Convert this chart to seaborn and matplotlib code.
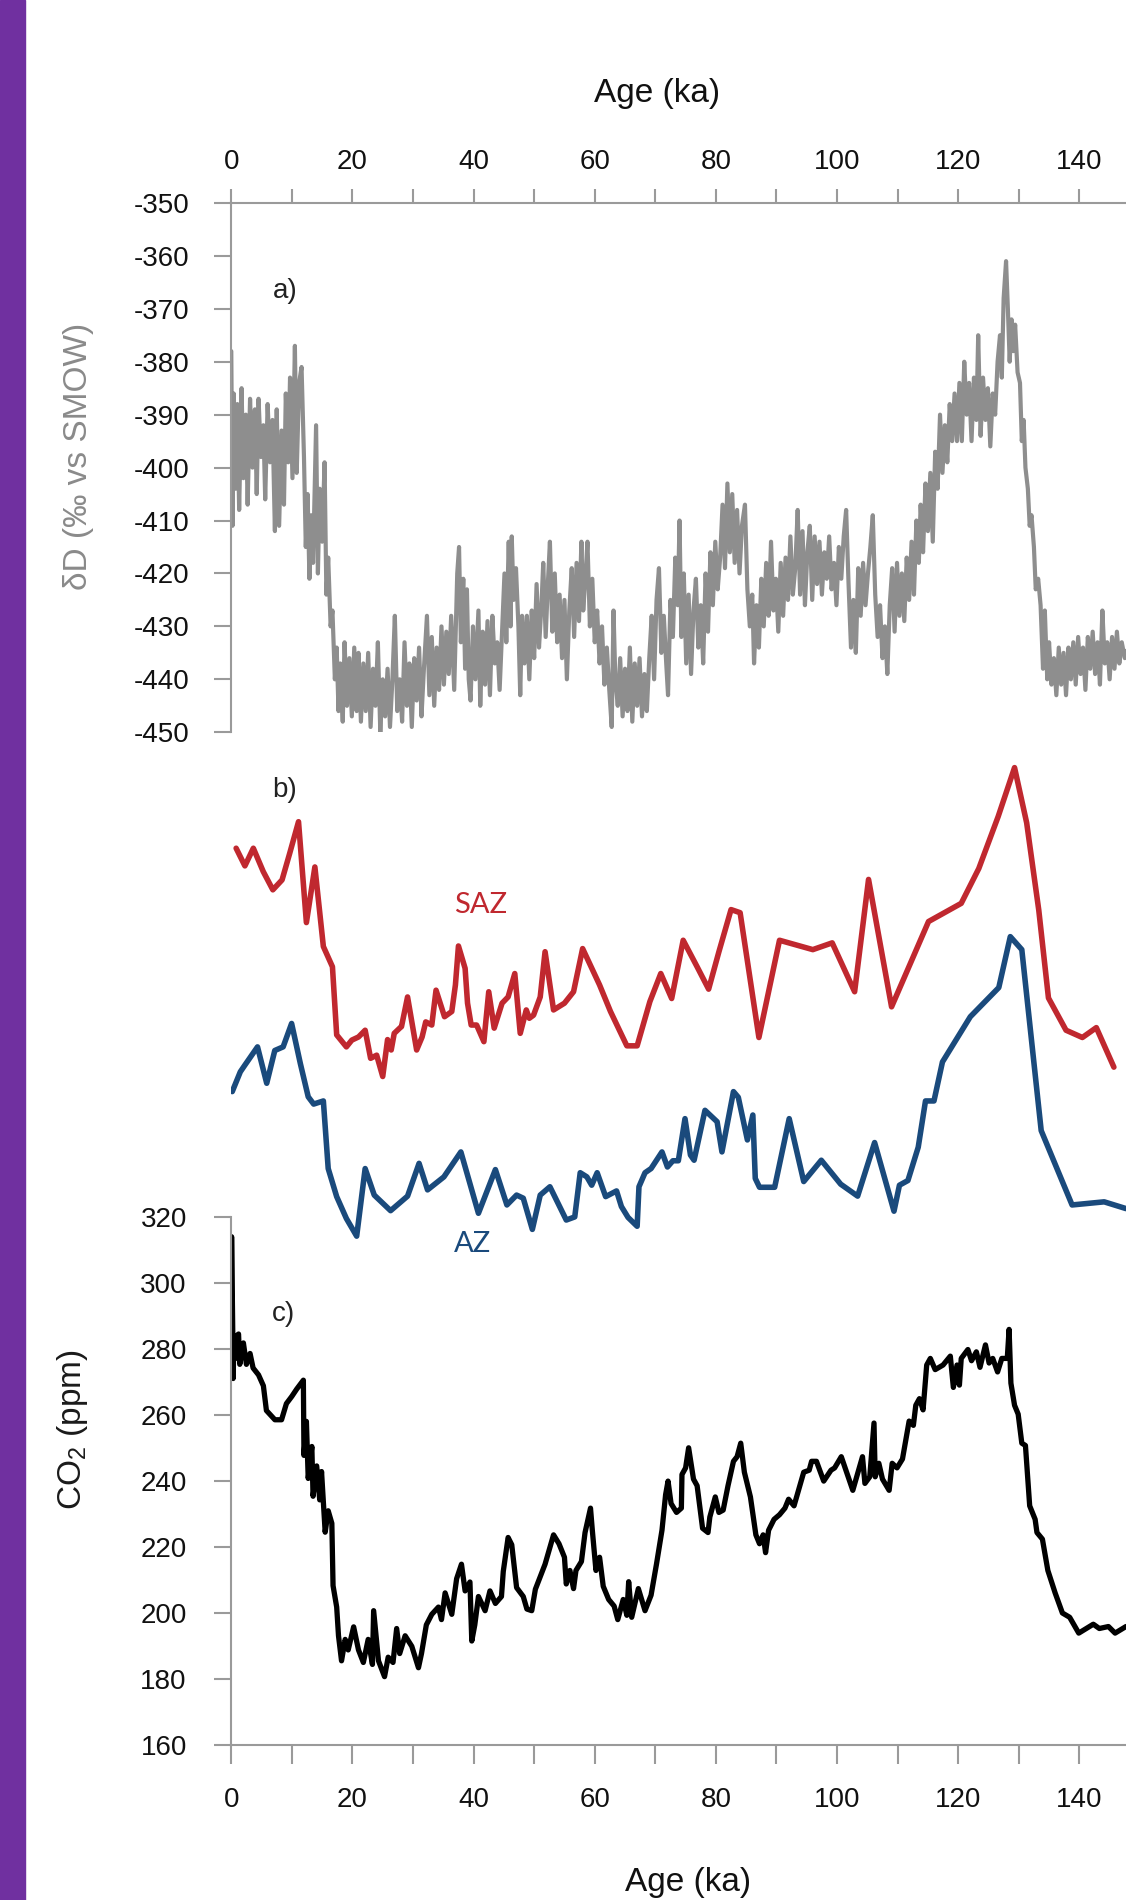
import matplotlib
matplotlib.use("Agg")
import matplotlib.pyplot as plt
import seaborn as sns
import pandas as pd
from matplotlib.patches import Rectangle

# --- a) deuterium (EPICA Dome C) ---
dD_age = [
    0.0, 0.2, 0.4, 0.7, 1.0, 1.3, 1.7, 2.0, 2.4, 2.7, 3.1, 3.5, 3.9, 4.2, 4.5, 4.9,
    5.3, 5.6, 6.0, 6.4, 6.8, 7.2, 7.5, 7.9, 8.3, 8.7, 9.0, 9.4, 9.7, 10.1, 10.5, 10.8,
    11.2, 11.6, 12.0, 12.3, 12.6, 12.9, 13.2, 13.5, 14.0, 14.3, 14.6, 15.0, 15.4, 15.7,
    16.0, 16.4, 16.7, 17.1, 17.4, 17.7, 18.0, 18.4, 18.7, 19.1, 19.5, 19.9, 20.3, 20.7,
    21.0, 21.4, 21.8, 22.2, 22.6, 23.0, 23.4, 23.8, 24.2, 24.6, 25.0, 25.4, 25.8, 26.2,
    26.6, 27.0, 27.4, 27.8, 28.2, 28.6, 29.0, 29.4, 29.8, 30.2, 30.6, 31.0, 31.4, 31.8,
    32.3, 32.7, 33.1, 33.5, 33.9, 34.3, 34.7, 35.1, 35.5, 35.9, 36.3, 36.8, 37.3, 37.6,
    37.9, 38.3, 38.6, 38.9, 39.2, 39.5, 39.9, 40.3, 40.8, 41.1, 41.5, 41.9, 42.3, 42.7,
    43.1, 43.5, 43.9, 44.3, 44.7, 45.1, 45.4, 45.8, 46.1, 46.3, 46.6, 47.0, 47.4, 47.7,
    48.0, 48.4, 48.8, 49.2, 49.6, 50.0, 50.4, 50.8, 51.2, 51.5, 51.9, 52.3, 52.6, 53.0,
    53.4, 53.8, 54.2, 54.6, 55.0, 55.4, 55.8, 56.2, 56.6, 57.0, 57.4, 57.8, 58.1, 58.5,
    58.8, 59.2, 59.6, 60.0, 60.4, 60.8, 61.2, 61.6, 62.0, 62.4, 62.8, 63.1, 63.4, 63.8,
    64.2, 64.6, 65.0, 65.4, 65.8, 66.2, 66.6, 67.0, 67.4, 67.8, 68.2, 68.6, 69.0, 69.4,
    69.8, 70.2, 70.6, 71.0, 71.4, 71.8, 72.1, 72.5, 72.9, 73.3, 73.7, 74.0, 74.3, 74.7,
    75.1, 75.5, 75.9, 76.3, 76.7, 77.1, 77.5, 77.9, 78.3, 78.7, 79.1, 79.5, 79.9, 80.3,
    80.7, 81.1, 81.5, 81.9, 82.3, 82.7, 83.1, 83.5, 83.9, 84.3, 84.8, 85.2, 85.6, 86.0,
    86.3, 86.7, 87.1, 87.5, 87.9, 88.3, 88.7, 89.1, 89.5, 89.9, 90.3, 90.7, 91.1, 91.5,
    91.9, 92.3, 92.7, 93.1, 93.5, 93.9, 94.3, 94.7, 95.1, 95.5, 95.9, 96.3, 96.7, 97.1,
    97.5, 97.9, 98.3, 98.7, 99.1, 99.5, 99.9, 100.3, 100.7, 101.1, 101.5, 101.9, 102.3,
    102.7, 103.1, 103.5, 103.9, 104.3, 104.7, 105.1, 105.5, 105.9, 106.3, 106.7, 107.1,
    107.5, 107.9, 108.3, 108.7, 109.1, 109.5, 109.9, 110.3, 110.7, 111.1, 111.5, 111.9,
    112.3, 112.7, 113.1, 113.5, 113.8, 114.2, 114.6, 115.0, 115.4, 115.8, 116.2, 116.6,
    117.0, 117.4, 117.8, 118.2, 118.6, 119.0, 119.4, 119.8, 120.2, 120.6, 121.0, 121.4,
    121.8, 122.2, 122.6, 123.0, 123.3, 123.7, 124.1, 124.5, 124.9, 125.3, 125.7, 126.1,
    126.5, 126.9, 127.2, 127.5, 127.9, 128.2, 128.5, 128.8, 129.1, 129.4, 129.8, 130.2,
    130.5, 130.8, 131.1, 131.5, 131.8, 132.1, 132.5, 132.8, 133.2, 133.6, 134.0, 134.3,
    134.7, 135.0, 135.4, 135.8, 136.2, 136.6, 137.0, 137.4, 137.8, 138.2, 138.6, 139.0,
    139.4, 139.8, 140.2, 140.6, 141.0, 141.4, 141.8, 142.2, 142.6, 143.0, 143.4, 143.8,
    144.2, 144.6, 145.0, 145.4, 145.8, 146.2, 146.6, 147.0, 147.5, 148.0,
]
dD = [
    -378, -411, -386, -404, -388, -408, -385, -402, -390, -407, -387, -400, -389, -405, -387, -398,
    -392, -406, -388, -399, -391, -412, -389, -411, -393, -407, -386, -399, -383, -402, -377, -401,
    -384, -381, -398, -415, -405, -421, -409, -418, -392, -420, -404, -414, -399, -424,
    -417, -430, -427, -440, -434, -446, -437, -448, -433, -445, -436, -447, -434, -446,
    -435, -448, -437, -446, -435, -449, -438, -445, -433, -450, -440, -447, -438, -449,
    -440, -428, -446, -440, -448, -433, -445, -437, -449, -436, -444, -434, -447, -438,
    -428, -443, -432, -445, -434, -442, -430, -441, -431, -439, -428, -442, -420, -415,
    -433, -421, -438, -423, -440, -444, -430, -440, -427, -445, -431, -441, -429, -443,
    -428, -437, -433, -442, -431, -420, -433, -414, -430, -413, -425, -419, -430, -443,
    -428, -437, -428, -440, -427, -436, -422, -434, -426, -418, -432, -421, -414, -431,
    -420, -433, -424, -436, -425, -440, -427, -419, -432, -418, -429, -414, -427, -420,
    -414, -430, -421, -433, -427, -437, -430, -441, -434, -442, -449, -427, -440, -445,
    -436, -447, -438, -446, -434, -448, -437, -445, -436, -447, -439, -446, -436, -428,
    -440, -425, -419, -435, -428, -437, -443, -425, -432, -417, -426, -410, -432, -420,
    -437, -424, -439, -427, -421, -434, -426, -437, -420, -431, -416, -426, -414, -423,
    -417, -407, -419, -403, -416, -405, -418, -408, -420, -411, -407, -423, -430, -424,
    -437, -426, -434, -421, -430, -418, -428, -414, -427, -421, -431, -418, -428, -417,
    -425, -413, -424, -419, -408, -424, -412, -426, -416, -411, -425, -413, -422, -414,
    -424, -416, -421, -413, -423, -418, -426, -415, -421, -413, -408, -422, -434,
    -425, -435, -419, -428, -418, -426, -420, -415, -409, -424, -432, -426,
    -436, -430, -439, -426, -419, -431, -418, -428, -420, -429, -417, -425,
    -414, -424, -410, -418, -407, -416, -403, -412, -401, -414, -397, -404,
    -390, -401, -392, -399, -388, -395, -386, -395, -384, -395, -380, -390,
    -384, -395, -383, -391, -375, -394, -383, -391, -385, -396, -386, -390,
    -380, -375, -383, -368, -361, -370, -380, -372, -378, -373, -382, -384,
    -395, -391, -400, -404, -411, -409, -415, -423, -421, -426, -438, -427,
    -440, -433, -441, -436, -443, -434, -441, -435, -443, -434, -440, -433,
    -441, -432, -439, -434, -442, -432, -438, -431, -439, -433, -441, -427,
    -437, -433, -440, -432, -438, -431, -437, -433, -436, -434,
]

# --- b) opal flux, Subantarctic (SAZ) and Antarctic (AZ) zones, relative units ---
saz_age = [0.8, 2.25, 3.64, 5.28, 6.86, 8.38, 9.64, 11.1, 12.4, 13.8, 15.2, 16.7, 17.4,
           19.0, 19.9, 21.0, 22.1, 23.0, 24.0, 25.0, 25.8, 26.4, 26.9, 27.8, 28.1, 29.1,
           30.6, 31.5, 32.1, 33.1, 33.8, 35.2, 36.4, 37.0, 37.5, 38.6, 39.0, 39.6, 40.5,
           41.7, 42.5, 43.4, 44.7, 45.7, 46.8, 47.7, 48.7, 49.2, 49.9, 51.0, 51.8, 53.2,
           55.0, 56.5, 58.0, 60.8, 62.6, 65.3, 67.0, 69.1, 70.9, 72.7, 74.6, 76.9, 78.8,
           80.5, 82.5, 84.0, 87.1, 90.5, 96.0, 99.2, 102.9, 105.2, 109.0, 115.1, 120.5,
           123.4, 126.6, 129.3, 131.3, 133.3, 134.9, 137.8, 140.5, 142.8, 145.7]
saz = [7.92, 7.58, 7.92, 7.47, 7.12, 7.31, 7.82, 8.43, 6.49, 7.56, 6.03, 5.64, 4.33,
       4.10, 4.23, 4.29, 4.42, 3.88, 3.94, 3.53, 4.24, 4.04, 4.36, 4.46, 4.49, 5.06,
       4.04, 4.29, 4.58, 4.52, 5.19, 4.68, 4.78, 5.29, 6.04, 5.61, 4.94, 4.52, 4.52,
       4.20, 5.16, 4.46, 4.94, 5.06, 5.51, 4.36, 4.81, 4.65, 4.71, 5.06, 5.93, 4.81,
       4.94, 5.16, 5.99, 5.29, 4.78, 4.12, 4.12, 4.97, 5.51, 5.03, 6.15, 5.64, 5.21,
       5.93, 6.74, 6.68, 4.28, 6.15, 5.97, 6.10, 5.16, 7.32, 4.87, 6.51, 6.86,
       7.53, 8.53, 9.47, 8.41, 6.73, 5.04, 4.42, 4.28, 4.47, 3.71]

az_age = [0.16, 1.49, 2.25, 4.33, 5.85, 7.18, 8.56, 9.96, 11.4, 12.7, 13.6, 15.2, 16.0,
          17.4, 19.0, 20.7, 22.1, 23.6, 26.3, 29.1, 31.0, 32.4, 35.1, 37.9, 40.8, 43.6,
          45.5, 47.1, 48.2, 49.7, 51.0, 52.6, 55.3, 56.7, 57.6, 58.7, 59.5, 60.4, 61.8,
          63.6, 64.4, 65.5, 67.0, 67.3, 68.3, 69.3, 71.1, 72.0, 72.9, 73.8, 74.9, 75.8,
          76.4, 78.2, 80.2, 81.0, 82.9, 83.7, 85.2, 86.1, 86.5, 87.2, 89.7, 92.1, 94.5,
          97.4, 100.6, 103.4, 106.2, 109.4, 110.3, 111.7, 113.4, 114.6, 116.0, 117.4,
          122.0, 126.7, 128.6, 130.5, 133.7, 138.8, 144.1, 147.7]
az = [3.24, 3.62, 3.75, 4.10, 3.40, 4.03, 4.10, 4.55, 3.78, 3.14, 3.00, 3.06, 1.76,
      1.22, 0.80, 0.46, 1.76, 1.25, 0.95, 1.23, 1.86, 1.35, 1.60, 2.08, 0.90, 1.74,
      1.06, 1.25, 1.19, 0.59, 1.25, 1.41, 0.77, 0.83, 1.68, 1.60, 1.44, 1.68, 1.22,
      1.33, 1.03, 0.82, 0.65, 1.41, 1.68, 1.76, 2.08, 1.79, 1.91, 1.91, 2.72, 2.02,
      1.92, 2.88, 2.66, 2.08, 3.24, 3.13, 2.31, 2.79, 1.57, 1.40, 1.40, 2.72, 1.51,
      1.92, 1.46, 1.23, 2.26, 0.94, 1.44, 1.53, 2.17, 3.06, 3.06, 3.81,
      4.68, 5.24, 6.22, 5.97, 2.49, 1.06, 1.12, 0.99]

# --- c) atmospheric CO2 (ppm) ---
co2_age = [0.0, 0.05, 0.15, 0.25, 0.3, 0.45, 0.6, 0.9, 1.2, 1.4, 2.0, 2.5, 3.1, 3.6, 4.5,
           5.3, 5.8, 7.2, 8.3, 9.1, 10.0, 10.8, 11.9, 12.0, 12.4, 12.7, 13.3, 13.5, 14.1,
           14.6, 14.9, 15.5, 16.0, 16.6, 16.8, 17.4, 17.7, 18.2, 18.8, 19.3, 20.2, 21.0,
           21.8, 22.6, 23.3, 23.5, 24.3, 25.3, 25.9, 26.7, 27.3, 27.8, 28.7, 29.8, 30.9,
           31.4, 32.2, 33.1, 34.2, 34.7, 35.3, 36.4, 37.2, 38.0, 38.6, 39.4, 39.7, 40.2,
           40.8, 41.9, 42.7, 43.6, 44.6, 44.9, 45.7, 46.3, 47.1, 48.2, 48.8, 49.6, 50.2,
           51.8, 53.2, 54.1, 55.0, 55.3, 55.9, 56.5, 56.9, 57.8, 58.4, 59.3, 59.6, 60.2,
           60.8, 61.4, 62.3, 63.2, 63.8, 64.7, 65.3, 65.6, 66.1, 67.2, 68.3, 69.3, 70.2,
           71.1, 71.7, 72.1, 72.6, 73.5, 74.3, 74.4, 75.0, 75.5, 76.3, 76.9, 77.8, 78.7,
           79.0, 79.9, 80.5, 81.2, 82.0, 82.9, 83.5, 84.1, 84.7, 85.7, 86.6, 87.2, 87.8,
           88.2, 88.7, 89.6, 90.5, 91.4, 92.0, 92.9, 94.5, 95.4, 95.8, 96.6, 97.8, 99.0,
           99.6, 100.7, 101.7, 102.6, 104.2, 104.6, 105.4, 106.1, 106.3, 106.9, 107.5,
           108.6, 109.1, 109.9, 110.8, 111.9, 112.6, 113.0, 113.6, 114.2, 114.8, 115.4,
           116.2, 117.5, 118.7, 119.2, 119.8, 120.2, 120.5, 121.6, 122.2, 123.0, 123.6,
           124.5, 125.1, 125.7, 126.5, 127.2, 128.1, 128.4, 128.7, 129.3, 129.9, 130.5,
           131.1, 131.8, 132.7, 133.0, 133.9, 134.8, 136.0, 137.2, 138.4, 139.9, 142.3,
           143.3, 144.8, 145.9, 147.7]
co2 = [280, 314, 300, 284, 271, 283, 277, 284, 284.5, 275.3, 281.8, 275.3, 278.6, 274.2, 272.1,
       268.8, 261.3, 258.5, 258.5, 263.4, 265.6, 267.8, 270.5, 247.7, 258.0, 240.7, 250.4, 235.3, 244.5,
       234.2, 242.8, 224.4, 230.9, 227.1, 208.2, 201.7, 193.0, 185.4, 191.9, 188.7, 195.7, 188.7,
       184.9, 191.9, 184.3, 200.6, 185.4, 180.6, 186.5, 184.9, 195.2, 187.6, 193.0, 189.8, 183.3,
       187.6, 196.3, 199.5, 201.7, 197.9, 206.0, 199.5, 210.3, 214.7, 206.6, 209.3, 191.4, 196.3,
       204.9, 200.6, 206.6, 202.8, 204.9, 212.5, 222.8, 220.6, 207.6, 204.9, 201.1, 200.6, 207.1,
       214.7, 223.6, 220.9, 216.8, 208.7, 212.8, 207.3, 212.8, 215.5, 224.3, 231.7, 225.0, 212.8,
       216.8, 208.0, 204.0, 202.0, 197.9, 204.0, 199.2, 209.4, 198.6, 207.3, 200.6, 205.3, 214.8,
       225.0, 235.8, 239.9, 233.1, 230.4, 231.7, 241.9, 243.9, 250.0, 240.5, 238.5, 225.6, 224.3,
       229.0, 235.1, 230.4, 231.1, 238.5, 245.9, 247.3, 251.4, 242.6, 235.1, 223.6, 220.9, 223.6,
       218.2, 225.0, 228.3, 229.7, 231.7, 234.4, 232.4, 242.6, 243.2, 245.9, 245.9, 239.9, 243.2,
       243.9, 247.3, 241.9, 237.1, 247.3, 239.2, 241.2, 257.5, 241.2, 245.3, 240.5,
       237.1, 245.3, 243.9, 246.6, 258.1, 256.8, 262.9, 264.9, 261.5, 275.1, 277.1,
       273.7, 275.1, 277.8, 268.3, 275.1, 269.0, 277.1, 279.8, 276.4, 279.1, 274.4,
       281.2, 275.7, 277.1, 273.0, 277.1, 277.1, 285.9, 269.6, 262.9, 260.2, 251.4,
       250.7, 232.4, 228.3, 224.3, 222.3, 212.8, 206.0, 199.9, 198.6, 193.8, 196.5,
       195.2, 195.8, 193.8, 195.8]

age_ticks = list(range(0, 150, 10))
age_labels = [str(t) if t % 20 == 0 else "" for t in age_ticks]
dD_ticks = list(range(-450, -340, 10))
co2_ticks = list(range(160, 340, 20))

sns.set_theme(style="white")
plt.rcParams["font.family"] = ["Liberation Sans", "DejaVu Sans"]
plt.rcParams["axes.unicode_minus"] = False
plt.rcParams["mathtext.fontset"] = "custom"
plt.rcParams["mathtext.rm"] = "Liberation Sans"
plt.rcParams["mathtext.default"] = "regular"

SPINE = "#9a9a9a"
GREY = "#8e8e8e"
RED = "#c0282f"
BLUE = "#1a4a7c"

df_a = pd.DataFrame({"age": dD_age, "dD": dD})
df_saz = pd.DataFrame({"age": saz_age, "v": saz})
df_az = pd.DataFrame({"age": az_age, "v": az})
df_c = pd.DataFrame({"age": co2_age, "co2": co2})

fig = plt.figure(figsize=(11.26, 19.0), dpi=100)
fig.patches.append(Rectangle((0, 0), 24.5 / 1126, 1, transform=fig.transFigure,
                             color="#7030a0", zorder=0))

xmax = 147.7
left, width = 0.2054, 0.7946
ax_a = fig.add_axes([left, 0.6146, width, 0.2786])
ax_b = fig.add_axes([left, 0.3368, width, 0.2737])
ax_c = fig.add_axes([left, 0.0818, width, 0.2777])

# panel a
sns.lineplot(data=df_a, x="age", y="dD", ax=ax_a, color=GREY, lw=3.0,
             estimator=None, sort=False)
ax_a.set_xlim(0, xmax)
ax_a.set_ylim(-450, -350)
ax_a.xaxis.tick_top()
ax_a.set_xticks(age_ticks)
ax_a.set_xticklabels(age_labels)
ax_a.set_yticks(dD_ticks)
ax_a.set_xlabel("")
ax_a.set_ylabel("")
for s in ["right", "bottom"]:
    ax_a.spines[s].set_visible(False)
for s in ["left", "top"]:
    ax_a.spines[s].set_color(SPINE)
    ax_a.spines[s].set_linewidth(1.5)
ax_a.tick_params(axis="x", which="both", top=True, bottom=False, direction="out",
                 length=10, width=1.5, color=SPINE, pad=10, labelsize=20, labelcolor="#111111")
ax_a.tick_params(axis="y", direction="out", left=True, length=12, width=1.5,
                 color=SPINE, pad=18, labelsize=20, labelcolor="#111111")
ax_a.text(0.2531, 0.8468, "a)", transform=fig.transFigure, fontsize=20,
          ha="center", va="center", color="#222222")

# panel b
sns.lineplot(data=df_saz, x="age", y="v", ax=ax_b, color=RED, lw=4.0,
             estimator=None, sort=False, solid_joinstyle="round", solid_capstyle="round")
sns.lineplot(data=df_az, x="age", y="v", ax=ax_b, color=BLUE, lw=4.0,
             estimator=None, sort=False, solid_joinstyle="round", solid_capstyle="round")
ax_b.set_xlim(0, xmax)
ax_b.set_ylim(0, 10)
ax_b.axis("off")
ax_b.patch.set_alpha(0)
fig.text(0.2531, 0.5842, "b)", fontsize=20, ha="center", va="center", color="#222222")
fig.text(0.4272, 0.5237, "SAZ", fontsize=21, ha="center", va="center", color=RED,
         family=["Lato", "DejaVu Sans"])
fig.text(0.4200, 0.3453, "AZ", fontsize=21, ha="center", va="center", color=BLUE,
         family=["Lato", "DejaVu Sans"])

# panel c
sns.lineplot(data=df_c, x="age", y="co2", ax=ax_c, color="black", lw=3.8,
             estimator=None, sort=False, solid_joinstyle="round")
ax_c.set_xlim(0, xmax)
ax_c.set_ylim(160, 320)
ax_c.set_xticks(age_ticks)
ax_c.set_xticklabels(age_labels)
ax_c.set_yticks(co2_ticks)
ax_c.set_xlabel("")
ax_c.set_ylabel("")
for s in ["right", "top"]:
    ax_c.spines[s].set_visible(False)
for s in ["left", "bottom"]:
    ax_c.spines[s].set_color(SPINE)
    ax_c.spines[s].set_linewidth(1.5)
ax_c.tick_params(axis="x", bottom=True, direction="out", length=13.5, width=1.5,
                 color=SPINE, pad=17, labelsize=20, labelcolor="#111111")
ax_c.tick_params(axis="y", left=True, direction="out", length=12, width=1.5,
                 color=SPINE, pad=20, labelsize=20, labelcolor="#111111")
fig.text(0.2522, 0.3084, "c)", fontsize=20, ha="center", va="center", color="#222222")

for a in (ax_a, ax_b, ax_c):
    a.set_facecolor("none")
    a.grid(False)

# axis titles
fig.text(0.5835, 1 - 102 / 1900, "Age (ka)", fontsize=24, ha="center", va="baseline",
         color="#111111")
fig.text(0.611, 1 - 1891 / 1900, "Age (ka)", fontsize=24, ha="center", va="baseline",
         color="#111111")
fig.text(0.0697, 0.7597, "δD (‰ vs SMOW)", fontsize=24, rotation=90, ha="center",
         va="center", color="#8a8a8a")
fig.text(0.0645, 0.2474, "CO$_2$ (ppm)", fontsize=24, rotation=90, ha="center",
         va="center", color="#1a1a1a")

fig.savefig("out.png", dpi=100)
